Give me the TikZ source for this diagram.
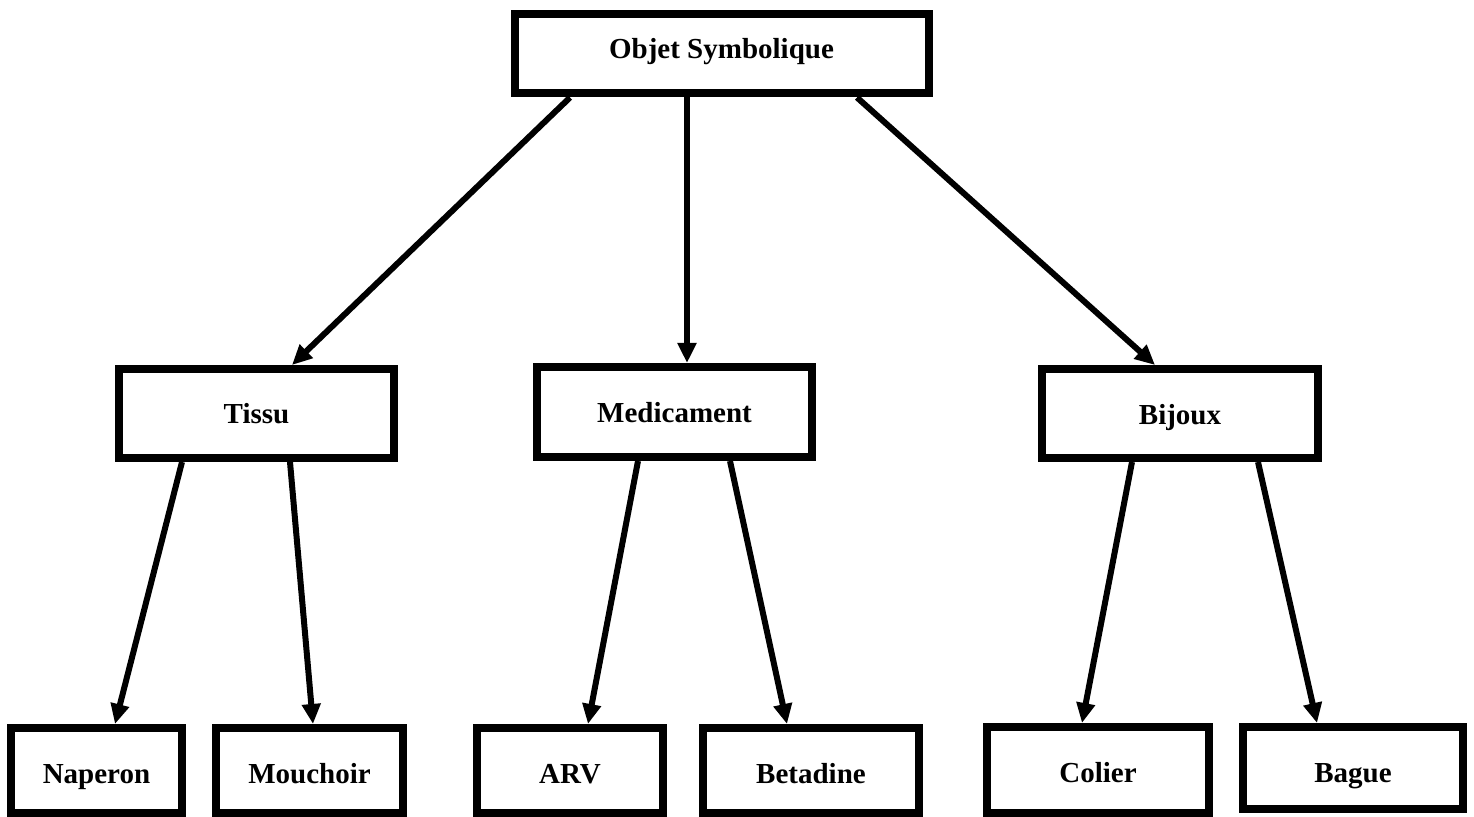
\documentclass[tikz,border=0pt]{standalone}
\usepackage{fontspec}
\setmainfont{Liberation Serif}
\usetikzlibrary{arrows.meta}
\begin{document}
\begin{tikzpicture}[x=0.5pt,y=-0.5pt,
  box/.style={draw=black,line width=4pt,fill=white,inner sep=0pt,
    font=\fontsize{14.5}{17}\selectfont\bfseries,
    text height=11.1pt,text depth=0pt},
  leafbox/.style={box,text height=13pt},
  arr/.style={line width=3pt,-{Triangle[length=10pt,width=9pt]}}]
\useasboundingbox (0,0) rectangle (1474,817);
% root
\node[box,minimum width=207pt,minimum height=39.5pt,text height=9.6pt,text depth=5pt] (root) at (721.5,54) {Objet Symbolique};
% categories
\node[box,minimum width=137.5pt,minimum height=44.5pt,text height=9.6pt] (tissu) at (256.5,413.5) {Tissu};
\node[box,minimum width=137.5pt,minimum height=45pt,text height=10.6pt] (medic) at (674.5,412) {Medicament};
\node[box,minimum width=138pt,minimum height=44.5pt] (bijoux) at (1180,413.5) {Bijoux};
% leaves
\node[leafbox,minimum width=85.5pt,minimum height=42.5pt] (naperon) at (96.5,770.5) {Naperon};
\node[leafbox,minimum width=93.5pt,minimum height=42.5pt] (mouchoir) at (309.5,770.5) {Mouchoir};
\node[leafbox,minimum width=93pt,minimum height=42.5pt] (arv) at (570,770.5) {ARV};
\node[leafbox,minimum width=108pt,minimum height=42.5pt] (betadine) at (811,770.5) {Betadine};
\node[leafbox,minimum width=111pt,minimum height=43pt] (colier) at (1098,770) {Colier};
\node[leafbox,minimum width=110pt,minimum height=41pt,text height=15pt] (bague) at (1353,768) {Bague};
% connectors
\draw[arr] ([xshift=-75.75pt]root.south) -- ([xshift=17.75pt]tissu.north);
\draw[arr] ([xshift=-17.25pt]root.south) -- ([xshift=6.25pt]medic.north);
\draw[arr] ([xshift=67.75pt]root.south) -- ([xshift=-12.5pt]bijoux.north);
\draw[arr] ([xshift=-37.25pt]tissu.south) -- ([xshift=9.25pt]naperon.north);
\draw[arr] ([xshift=16.75pt]tissu.south) -- ([xshift=1.75pt]mouchoir.north);
\draw[arr] ([xshift=-18.25pt]medic.south) -- ([xshift=9pt]arv.north);
\draw[arr] ([xshift=27.75pt]medic.south) -- ([xshift=-12pt]betadine.north);
\draw[arr] ([xshift=-24pt]bijoux.south) -- ([xshift=-8pt]colier.north);
\draw[arr] ([xshift=39pt]bijoux.south) -- ([xshift=-18pt]bague.north);
\end{tikzpicture}
\end{document}
